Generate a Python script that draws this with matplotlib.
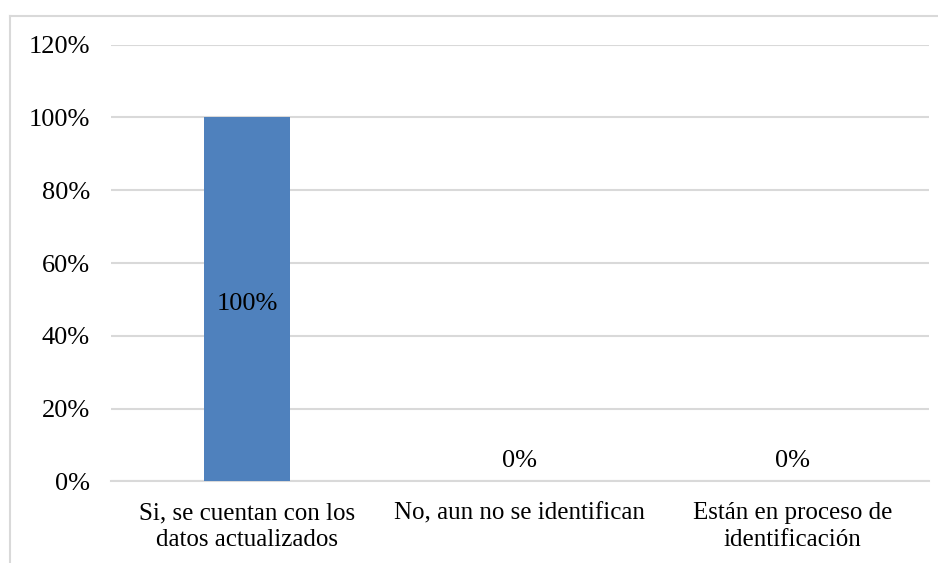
import matplotlib.pyplot as plt
from matplotlib.lines import Line2D

categories = ['Si, se cuentan con los\ndatos actualizados',
              'No, aun no se identifican',
              'Están en proceso de\nidentificación']
values = [1.0, 0.0, 0.0]
yticks = [0, 0.2, 0.4, 0.6, 0.8, 1.0, 1.2]
ytick_labels = ['0%', '20%', '40%', '60%', '80%', '100%', '120%']

plt.rcParams['font.family'] = 'Liberation Serif'

fig = plt.figure(figsize=(9.38, 5.63), dpi=100)
ax = fig.add_axes([0.118, 0.1448, 0.8719, 0.7758])

x = range(len(categories))
bars = ax.bar(x, values, width=0.314, color='#4F81BD', zorder=3)

for xi, v in zip(x, values):
    if v > 0:
        ax.annotate(f'{v:.0%}', (xi, v / 2), xytext=(0, -3), textcoords='offset points',
                    ha='center', va='center', fontsize=19, zorder=4)
    else:
        ax.annotate(f'{v:.0%}', (xi, v), xytext=(0, 7), textcoords='offset points',
                    ha='center', va='bottom', fontsize=19)

ax.set_xlim(-0.5, 2.5)
ax.set_ylim(0, 1.2)
ax.set_yticks(yticks)
ax.set_yticklabels(ytick_labels, fontsize=19)
ax.set_xticks(list(x))
ax.set_xticklabels(categories, fontsize=18, linespacing=1.3)
ax.tick_params(axis='both', length=0)
ax.tick_params(axis='y', pad=15)
ax.tick_params(axis='x', pad=15)

ax.grid(axis='y', color='#D9D9D9', linewidth=1.5, zorder=0)
for s in ['top', 'right', 'left']:
    ax.spines[s].set_visible(False)
ax.spines['bottom'].set_color('#D9D9D9')
ax.spines['bottom'].set_linewidth(1.5)

# chart frame (cropped)
fx = 10 / 938
fy = (563 - 15.7) / 563
fig.add_artist(Line2D([fx, fx], [0, fy], transform=fig.transFigure, color='#D9D9D9', linewidth=1.5))
fig.add_artist(Line2D([fx, 1.0], [fy, fy], transform=fig.transFigure, color='#D9D9D9', linewidth=1.5))

fig.savefig('out.png', dpi=100, facecolor='white')
